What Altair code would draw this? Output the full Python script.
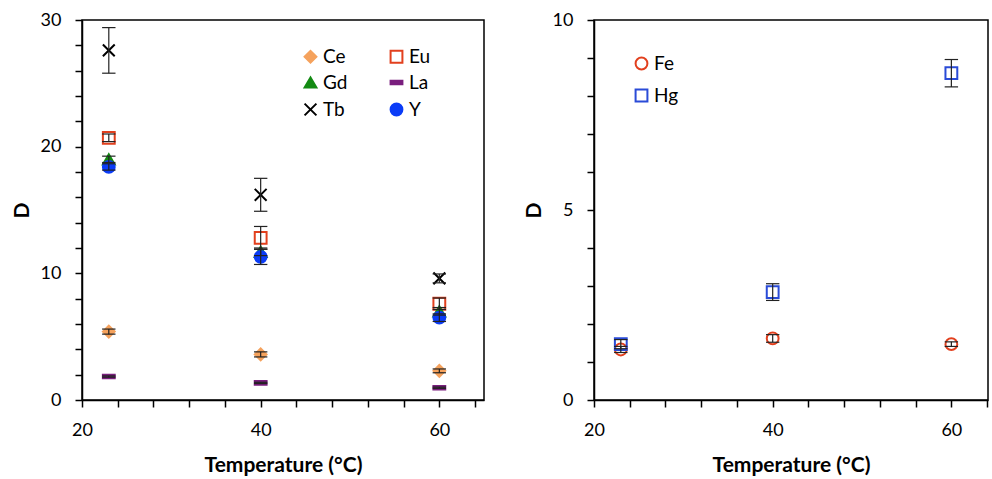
import altair as alt
import pandas as pd

temps = [23, 40, 60]

# Left panel (rare earths etc.)
left_names = ["Ce", "Eu", "Gd", "La", "Tb", "Y"]
ce_d = [5.4, 3.6, 2.3]
ce_e = [0.2, 0.2, 0.15]
eu_d = [20.7, 12.8, 7.6]
eu_e = [0.3, 0.9, 0.45]
gd_d = [19.0, 11.7, 7.0]
gd_e = [0.25, 0.3, 0.3]
la_d = [1.85, 1.35, 0.97]
la_e = [0.05, 0.05, 0.05]
tb_d = [27.6, 16.2, 9.6]
tb_e = [1.8, 1.3, 0.35]
y_d = [18.4, 11.3, 6.5]
y_e = [0.25, 0.6, 0.3]

# Right panel
right_names = ["Fe", "Hg"]
fe_d = [1.33, 1.62, 1.47]
fe_e = [0.08, 0.1, 0.06]
hg_d = [1.47, 2.84, 8.6]
hg_e = [0.12, 0.22, 0.36]

left_stroke = ["#F5A25D", "#E2401E", "#138A13", "#7A1E7E", "#000000", "#0B3CF7"]
left_fill = ["#F5A25D", "transparent", "#138A13", "#7A1E7E", "transparent", "#0B3CF7"]
left_shape = ["diamond", "square", "triangle-up", "M-1,-0.3H1V0.3H-1Z",
              "M-1,-1L1,1M-1,1L1,-1", "circle"]

right_stroke = ["#E2401E", "#2A4BD7"]
right_fill = ["transparent", "transparent"]
right_shape = ["circle", "square"]


def build(names, values, errors):
    rows = []
    for n, vals, errs in zip(names, values, errors):
        for t, v, e in zip(temps, vals, errs):
            rows.append({"series": n, "T": t, "D": v, "err": e})
    return pd.DataFrame(rows)


left_df = build(left_names, [ce_d, eu_d, gd_d, la_d, tb_d, y_d],
                [ce_e, eu_e, gd_e, la_e, tb_e, y_e])
right_df = build(right_names, [fe_d, hg_d], [fe_e, hg_e])

FONT = "Lato"
CAP = 0.75


def panel(df, names, strokes, fills, shapes, xmax, ymax, yvals, ystep_label,
          width, legx, legy, rowpad, colpad, columns):
    xvals = list(range(20, 65, 4))
    xscale = alt.Scale(domain=[20, xmax], nice=False, zero=False)
    yscale = alt.Scale(domain=[0, ymax], nice=False)
    xaxis = alt.Axis(values=xvals, tickCount=len(xvals) + 5, format="d",
                     labelExpr="datum.value % 20 == 0 ? datum.label : ''",
                     title="Temperature (°C)", labelFlush=False,
                     labelOverlap=False, titlePadding=15)
    yaxis = alt.Axis(values=yvals, tickCount=len(yvals) + 5, format="d",
                     labelExpr=f"datum.value % {ystep_label} == 0 ? datum.label : ''",
                     title="D", minExtent=41, maxExtent=41, titlePadding=9,
                     labelOverlap=False, labelFlush=False)
    leg = alt.Legend(title=None, orient="none", legendX=legx, legendY=legy,
                     direction="horizontal", columns=columns,
                     rowPadding=rowpad, columnPadding=colpad,
                     labelFontSize=19, labelFont=FONT, labelColor="black",
                     symbolSize=140, symbolStrokeWidth=2, padding=0,
                     labelOffset=3)
    base = alt.Chart(df)
    pts = base.mark_point(filled=False, size=140, strokeWidth=2, opacity=1).encode(
        x=alt.X("T:Q", scale=xscale, axis=xaxis),
        y=alt.Y("D:Q", scale=yscale, axis=yaxis),
        shape=alt.Shape("series:N", scale=alt.Scale(domain=names, range=shapes), legend=leg),
        stroke=alt.Stroke("series:N", scale=alt.Scale(domain=names, range=strokes), legend=leg),
        fill=alt.Fill("series:N", scale=alt.Scale(domain=names, range=fills), legend=leg),
    )
    calc = base.transform_calculate(
        lo="datum.D - datum.err", hi="datum.D + datum.err",
        xl=f"datum.T - {CAP}", xr=f"datum.T + {CAP}")
    vbar = calc.mark_rule(color="#222222", strokeWidth=1.2).encode(
        x="T:Q", y="lo:Q", y2="hi:Q")
    cap_lo = calc.mark_rule(color="#222222", strokeWidth=1.2).encode(
        x="xl:Q", x2="xr:Q", y="lo:Q")
    cap_hi = calc.mark_rule(color="#222222", strokeWidth=1.2).encode(
        x="xl:Q", x2="xr:Q", y="hi:Q")
    return alt.layer(pts, vbar, cap_lo, cap_hi).properties(width=width, height=380)


left = panel(left_df, left_names, left_stroke, left_fill, left_shape,
             65, 30, list(range(0, 31, 2)), 10, 402,
             219, 27, 6, 38, 2)
right = panel(right_df, right_names, right_stroke, right_fill, right_shape,
              64.1, 10, list(range(0, 11, 1)), 5, 394,
              38, 34, 11, 10, 1)

chart = alt.hconcat(left, right, spacing=37).resolve_scale(
    shape="independent", stroke="independent", fill="independent",
    x="independent", y="independent"
).resolve_legend(shape="independent", stroke="independent", fill="independent").properties(
    padding={"left": 10, "top": 10, "right": 0, "bottom": 0},
    background="white"
).configure_view(
    stroke="black", strokeWidth=1.5
).configure_axis(
    grid=False, domainColor="black", domainWidth=1.5, tickColor="black",
    tickWidth=1.5, tickSize=7, labelPadding=14, labelFontSize=18,
    labelFont=FONT, labelColor="black", titleFontSize=21, titleFont=FONT,
    titleFontWeight="bold", titleColor="black"
)

chart.save("out.html", embed_options={"renderer": "svg", "actions": False})
